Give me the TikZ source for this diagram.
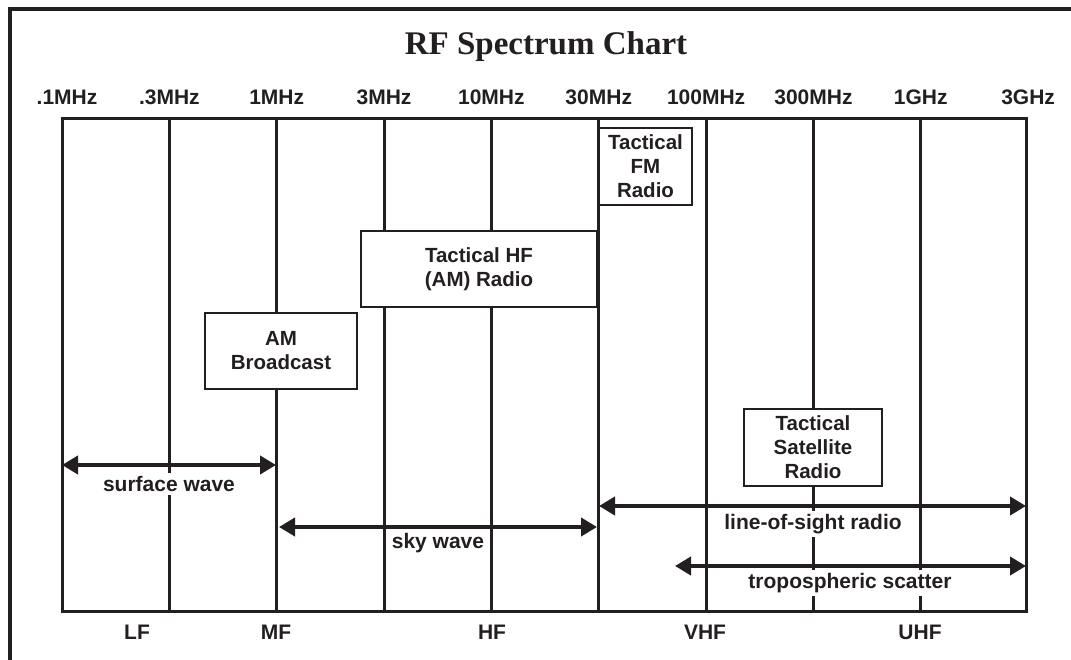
\documentclass[tikz,border=0pt]{standalone}
\usepackage{fontspec}
\setmainfont{Liberation Sans}
\newfontfamily\titlefont{Liberation Serif}
\usetikzlibrary{arrows.meta}
\definecolor{ink}{HTML}{231F20}
\begin{document}
\begin{tikzpicture}[x=1pt,y=-1pt,
  gridline/.style={line width=3pt, draw=ink},
  lbl/.style={font=\fontsize{21}{24}\selectfont\bfseries, text=ink, inner sep=0pt},
  wlbl/.style={lbl, fill=white, inner xsep=2pt, inner ysep=3pt},
  infobox/.style={draw=ink, line width=2pt, fill=white, align=center,
     font=\fontsize{20.5}{24}\selectfont\bfseries, text=ink, inner sep=0pt},
  span/.style={line width=4pt, draw=ink, {Triangle[length=16pt,width=18pt]}-{Triangle[length=16pt,width=18pt]}}
]
\useasboundingbox (0,0) rectangle (1071,660);
\fill[white] (0,0) rectangle (1071,660);
% outer frame
\draw[line width=4pt, draw=ink] (10,670) -- (10,9.5) -- (1080,9.5);
% title
\node[font=\titlefont\fontsize{33}{36}\selectfont\bfseries, text=ink, anchor=base] (title) at (546,55) {RF Spectrum Chart};
% grid
\draw[gridline] (62,119) rectangle (1026.8,611);
\foreach \i in {1,...,8}{
  \draw[gridline] ({62+107.35*\i},119) -- ({62+107.35*\i},611);
}
% frequency labels
\node[lbl, anchor=base] (f0) at (67,105) {.1MHz};
\foreach \i/\t in {1/.3MHz,2/1MHz,3/3MHz,4/10MHz,5/30MHz,6/100MHz,7/300MHz,8/1GHz,9/3GHz}{
  \node[lbl, anchor=base] (f\i) at ({62+107.35*\i},105) {\t};
}
% band labels
\node[lbl, anchor=base] (lf) at (137,639) {LF};
\node[lbl, anchor=base] (mf) at (276,639) {MF};
\node[lbl, anchor=base] (hf) at (492,639) {HF};
\node[lbl, anchor=base] (vhf) at (705,639) {VHF};
\node[lbl, anchor=base] (uhf) at (920,639) {UHF};
% boxes
\node[infobox, minimum width=93, minimum height=77] (fm) at (645.5,166.5) {Tactical\\FM\\Radio};
\node[infobox, minimum width=236, minimum height=76] (hfr) at (479,269) {Tactical HF\\(AM) Radio};
\node[infobox, minimum width=152, minimum height=76] (am) at (281,351) {AM\\Broadcast};
\node[infobox, minimum width=138, minimum height=77] (sat) at (813,447.5) {Tactical\\Satellite\\Radio};
% span labels
\node[wlbl] (sw) at (169,484) {surface wave};
\node[wlbl] (sky) at (438,543) {sky wave};
\node[wlbl] (los) at (813,524) {line-of-sight radio};
\node[wlbl] (tro) at (850,583) {tropospheric scatter};
% span end points
\coordinate (swa) at (62,465);
\coordinate (swb) at (276,465);
\coordinate (skya) at (279,527);
\coordinate (skyb) at (597,527);
\coordinate (losa) at (599,506);
\coordinate (losb) at (1026,506);
\coordinate (troa) at (675,566);
\coordinate (trob) at (1026,566);
\draw[span] (swa) -- (swb);
\draw[span] (skya) -- (skyb);
\draw[span] (losa) -- (losb);
\draw[span] (troa) -- (trob);
\end{tikzpicture}
\end{document}
